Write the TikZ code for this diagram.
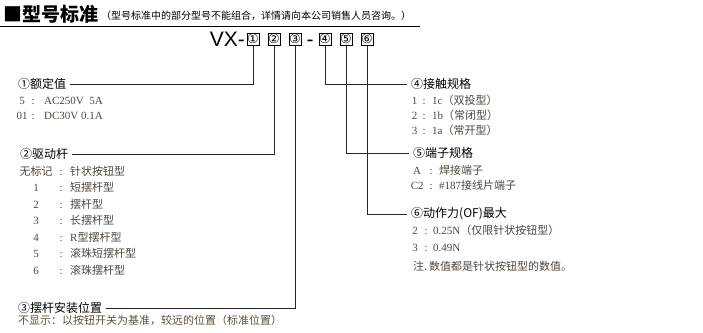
\documentclass[tikz,border=0pt]{standalone}
\usepackage{fontspec}
\setmainfont{Liberation Serif}
\setsansfont{Liberation Sans}
\newfontfamily\cjk{Noto Sans CJK SC}
\newfontfamily\symf{DejaVu Sans}
\usetikzlibrary{positioning}
\definecolor{itemgray}{RGB}{78,70,62}
\tikzset{
  head/.style={font=\fontsize{12}{14}\selectfont\cjk, anchor=west, inner xsep=4pt, inner ysep=1pt},
  item/.style={font=\fontsize{11}{13}\selectfont, text=itemgray, anchor=west, inner sep=0pt},
  numbox/.style={draw, line width=0.5pt, minimum size=12.5pt, inner sep=0pt, font=\fontsize{13}{14}\selectfont\symf},
  lead/.style={line width=0.6pt, black!85},
}
\begin{document}
\begin{tikzpicture}[x=1pt, y=-1pt]
  \useasboundingbox (0,0) rectangle (703,332);
  % Title and rule
  \node[anchor=west, inner sep=0pt, font=\fontsize{19}{20}\selectfont\cjk\bfseries] (title) at (3,14) {■型号标准};
  \node[anchor=west, inner sep=0pt, font=\fontsize{10}{11}\selectfont\cjk] (remark) at (101,16) {（型号标准中的部分型号不能组合，详情请向本公司销售人员咨询。）};
  \draw[line width=0.8pt] (0,26) -- (420,26);
  % Model code
  \node[anchor=base east, inner sep=0pt, font=\fontsize{21}{22}\selectfont\sffamily] (vx) at (245,46) {VX-};
  \foreach \n/\x/\c in {1/253/①, 2/274/②, 3/295/③, 4/325/④, 5/346/⑤, 6/367/⑥}
    \node[numbox] (b\n) at (\x,39) {\c};
  \node[anchor=base, inner sep=0pt, font=\fontsize{21}{22}\selectfont\sffamily] (dash) at (310,46) {-};
  % Headings
  \node[head] (h1) at (14,84) {①额定值};
  \node[head] (h2) at (16,154) {②驱动杆};
  \node[head] (h3) at (14,308) {③摆杆安装位置};
  \node[head] (h4) at (407,84) {④接触规格};
  \node[head] (h5) at (409,153) {⑤端子规格};
  \node[head] (h6) at (407,214) {⑥动作力(OF)最大};
  % Leaders
  \draw[lead] (b1.south) |- (h1.east);
  \draw[lead] (b2.south) |- (h2.east);
  \draw[lead] (b3.south) |- (h3.east);
  \draw[lead] (b4.south) |- (h4.west);
  \draw[lead] (b5.south) |- (h5.west);
  \draw[lead] (b6.south) |- (h6.west);
  % (1) rated value
  \foreach \y/\n/\t [count=\i] in {101/5/AC250V\ \ 5A, 116/01/DC30V 0.1A}
    \node[item] (a\i) at (17,\y) {\makebox[10pt]{\n}\makebox[12pt]{:}\hspace{5pt}\t};
  % (2) actuator
  \foreach \y/\n/\t [count=\i] in {171/{\cjk 无标记}/{\cjk 针状按钮型}, 187.5/1/{\cjk 短摆杆型},
      204/2/{\cjk 摆杆型}, 220.5/3/{\cjk 长摆杆型}, 237/4/R{\cjk 型摆杆型},
      253.5/5/{\cjk 滚珠短摆杆型}, 270/6/{\cjk 滚珠摆杆型}}
    \node[item] (c\i) at (18,\y) {\makebox[36pt]{\n}\makebox[14pt]{:}\hspace{2pt}\t};
  % (3) lever position
  \node[item, font=\fontsize{11}{13}\selectfont\cjk, text=itemgray!85!brown] (d1) at (18,320) {不显示：以按钮开关为基准，较远的位置（标准位置）};
  % (4) contact form
  \foreach \y/\n/\t [count=\i] in {100/1/1c{\cjk （双投型）}, 115/2/1b{\cjk （常闭型）}, 130/3/1a{\cjk （常开型）}}
    \node[item] (e\i) at (411,\y) {\makebox[7pt]{\n}\makebox[12pt]{:}\hspace{2pt}\t};
  % (5) terminal
  \foreach \y/\n/\t [count=\i] in {170/A/{\cjk 焊接端子}, 185/C2/\#187{\cjk 接线片端子}}
    \node[item] (f\i) at (410,\y) {\makebox[14pt]{\n}\makebox[14pt]{:}\hspace{1pt}\t};
  % (6) operating force
  \foreach \y/\n/\t [count=\i] in {230/2/0.25N{\cjk （仅限针状按钮型）}, 248/3/0.49N}
    \node[item] (g\i) at (411,\y) {\makebox[8pt]{\n}\makebox[14pt]{:}\t};
  \node[item, font=\fontsize{11}{13}\selectfont\cjk] (g3) at (413,266) {注.\,数值都是针状按钮型的数值。};
\end{tikzpicture}
\end{document}
